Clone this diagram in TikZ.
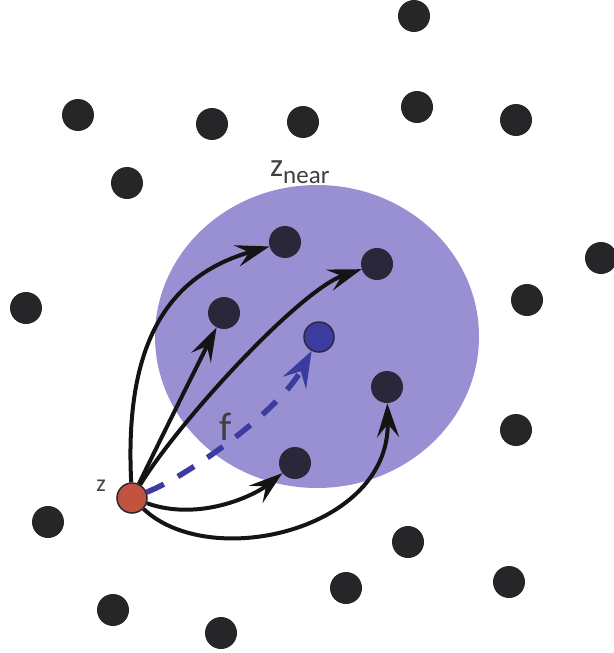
\documentclass[tikz,border=0pt]{standalone}
\usepackage{fontspec}
\setmainfont{Carlito}
\usetikzlibrary{arrows.meta}
\definecolor{lav}{RGB}{153,144,212}
\definecolor{dotblack}{RGB}{38,38,40}
\definecolor{indark}{RGB}{42,39,58}
\definecolor{zred}{RGB}{192,82,62}
\definecolor{fblue}{RGB}{60,60,160}
\definecolor{txtgray}{RGB}{64,64,64}
\begin{document}
\begin{tikzpicture}[x=1pt,y=-1pt,
  dot/.style={circle,fill=dotblack,minimum size=32pt,inner sep=0pt},
  indot/.style={circle,fill=indark,minimum size=32pt,inner sep=0pt},
  arr/.style={line width=4pt,draw=black!92,-{Stealth[length=34pt,width=22pt,inset=13pt]}},
  farr/.style={line width=5.5pt,draw=fblue,dash pattern=on 19pt off 16pt,-{Stealth[length=36pt,width=26pt,inset=13pt]}},
  lbl/.style={text=txtgray,inner sep=0pt}]
\useasboundingbox (0,0) rectangle (613,653);
\fill[lav] (317,336.5) ellipse [x radius=162pt,y radius=151.5pt];
% outside dots
\node[dot] (p1) at (414,16) {};
\node[dot] (p2) at (78,115) {};
\node[dot] (p3) at (212,124) {};
\node[dot] (p4) at (303,122) {};
\node[dot] (p5) at (417,107) {};
\node[dot] (p6) at (516,120) {};
\node[dot] (p7) at (127,183) {};
\node[dot] (p8) at (26,308) {};
\node[dot] (p9) at (601,258) {};
\node[dot] (p10) at (527,300) {};
\node[dot] (p16) at (516,430) {};
\node[dot] (p18) at (48,522) {};
\node[dot] (p19) at (408,542) {};
\node[dot] (p20) at (509,582) {};
\node[dot] (p21) at (346,588) {};
\node[dot] (p22) at (113,610) {};
\node[dot] (p23) at (221,633) {};
% inside dots
\node[indot] (d11) at (285,242) {};
\node[indot] (d12) at (377,264) {};
\node[indot] (d13) at (224,313) {};
\node[indot] (d15) at (387,387) {};
\node[indot] (d17) at (295,463) {};
\node[circle,fill=fblue,draw=indark,line width=1.5pt,minimum size=30pt,inner sep=0pt] (d14) at (319,337) {};
\node[circle,fill=zred,draw=indark,line width=1.5pt,minimum size=30pt,inner sep=0pt] (z) at (132,498) {};
% labels
\node[lbl,anchor=base west] (zn) at (270,176) {{\fontsize{33}{33}\selectfont z}\raisebox{-7pt}{\fontsize{25}{25}\selectfont near}};
\node[lbl,anchor=base] (zl) at (101,491) {\fontsize{24}{24}\selectfont z};
\node[lbl,anchor=base] (fl) at (226,440) {\fontsize{40}{40}\selectfont f};
% arrows
\draw[arr] (z) .. controls (124,340) and (170,275) .. (d11);
\draw[arr] (z) .. controls (165,430) and (205,350) .. (d13);
\draw[arr] (z) .. controls (180,420) and (300,290) .. (d12);
\draw[farr] (z) .. controls (190,475) and (280,410) .. (d14);
\draw[arr] (z) .. controls (200,522) and (255,495) .. (d17);
\draw[arr] (z) .. controls (210,572) and (390,530) .. (d15);
\end{tikzpicture}
\end{document}
